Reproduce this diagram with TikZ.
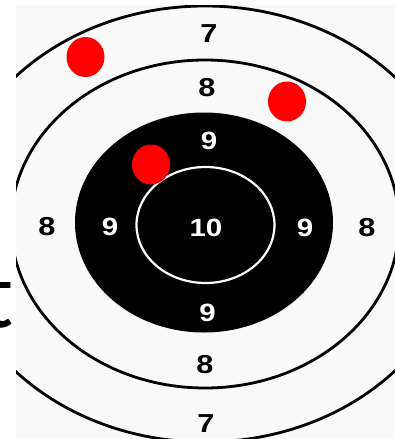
\documentclass[tikz,border=0pt]{standalone}
\usepackage{fontspec}
\setmainfont{Liberation Sans}
\newfontfamily\slidefont{Carlito}
\newcommand\tgwide[1]{\scalebox{1.18}[1]{#1}}
\begin{document}
\begin{tikzpicture}[x=1pt,y=-1pt,
  lblblack/.style={inner sep=0pt,text=black,font=\fontsize{26}{26}\selectfont\bfseries},
  lblwhite/.style={inner sep=0pt,text=white,font=\fontsize{25}{25}\selectfont\bfseries},
  hit/.style={fill=red,draw=none},
  ringline/.style={draw=black,line width=2.8pt}]
\useasboundingbox (0,0) rectangle (395,439);
\fill[white] (0,0) rectangle (395,439);
% slide text behind the picture
\node[anchor=base east,inner sep=0pt,font=\slidefont\fontsize{96}{96}\selectfont] (tletter) at (14,327) {t};
% target picture
\begin{scope}
\clip (16,5) rectangle (395,439);
\fill[gray!5] (16,5) rectangle (395,439);
\draw[ringline] (205,224) ellipse [x radius=257, y radius=218];
\draw[ringline] (205,224) ellipse [x radius=194, y radius=164];
\fill[black] (204,222.5) ellipse [x radius=129, y radius=110];
\draw[white,line width=2.2pt] (205.5,225) ellipse [x radius=69, y radius=58];
\end{scope}
% score labels
\node[lblblack] (s7t) at (209,34) {\tgwide{7}};
\node[lblblack] (s8t) at (207,88) {\tgwide{8}};
\node[lblwhite] (s9t) at (209,141) {\tgwide{9}};
\node[lblwhite] (s10) at (206,228) {\tgwide{10}};
\node[lblwhite] (s9b) at (207.5,313) {\tgwide{9}};
\node[lblblack] (s8b) at (205,365) {\tgwide{8}};
\node[lblblack] (s7b) at (206,424) {\tgwide{7}};
\node[lblblack] (s8l) at (47,227) {\tgwide{8}};
\node[lblwhite] (s9l) at (110,227) {\tgwide{9}};
\node[lblwhite] (s9r) at (305,228) {\tgwide{9}};
\node[lblblack] (s8r) at (367,228) {\tgwide{8}};
% hits
\fill[hit] (85.5,57) ellipse [x radius=19, y radius=20];
\fill[hit] (287,101.5) ellipse [x radius=19, y radius=20];
\fill[hit] (151,164.5) ellipse [x radius=19, y radius=20];
\end{tikzpicture}
\end{document}
